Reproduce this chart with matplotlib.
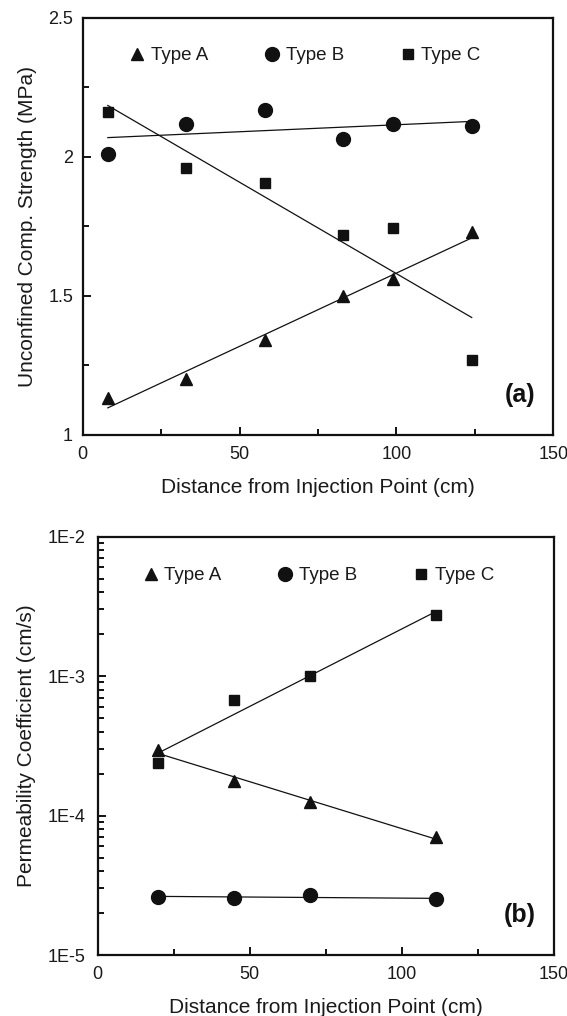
import numpy as np
import matplotlib
matplotlib.use("Agg")
import matplotlib.pyplot as plt
from matplotlib.ticker import MultipleLocator, FixedLocator, FuncFormatter, LogLocator, NullFormatter

plt.rcParams["font.family"] = ["Liberation Sans", "DejaVu Sans"]

TEXT = "#1a1a1a"
INK = "#111111"

# panel (a): unconfined compressive strength
dist_a = [8, 33, 58, 83, 99, 124]
ucs_type_a = [1.13, 1.20, 1.34, 1.50, 1.56, 1.73]
ucs_type_b = [2.01, 2.12, 2.17, 2.065, 2.12, 2.11]
ucs_type_c = [2.16, 1.96, 1.905, 1.72, 1.745, 1.27]

# panel (b): permeability coefficient
dist_b = [20, 45, 70, 111.5]
perm_type_a = [2.96e-4, 1.76e-4, 1.26e-4, 6.96e-5]
perm_type_b = [2.62e-5, 2.57e-5, 2.68e-5, 2.51e-5]
perm_type_c = [2.39e-4, 6.68e-4, 1.0e-3, 2.75e-3]

labels = ["Type A", "Type B", "Type C"]
markers = [("^", 9), ("o", 10), ("s", 7.2)]


def style_axes(ax):
    for sp in ax.spines.values():
        sp.set_linewidth(1.6)
        sp.set_color(INK)
    ax.tick_params(which="both", direction="in", top=False, right=False,
                   width=1.4, colors=INK, labelcolor=TEXT, labelsize=13)
    ax.tick_params(which="major", length=6)
    ax.tick_params(which="minor", length=4)
    ax.tick_params(axis="x", which="both", pad=8)
    ax.xaxis.set_major_locator(MultipleLocator(50))
    ax.xaxis.set_minor_locator(MultipleLocator(25))
    ax.set_xlim(0, 150)
    ax.set_xlabel("Distance from Injection Point (cm)", fontsize=15,
                  color=TEXT, labelpad=11)


def add_legend(ax, y):
    ax.legend(loc="center left", bbox_to_anchor=(0.1, y), ncol=3,
              frameon=False, fontsize=13.5, handlelength=0.8,
              handletextpad=0.33, columnspacing=3.0, borderaxespad=0,
              borderpad=0, numpoints=1, labelcolor=TEXT)


fig = plt.figure(figsize=(5.67, 10.16), dpi=100)

# ---- (a) ----
ax1 = fig.add_axes([0.1459, 0.5723, 0.8299, 0.4100])
x = np.array(dist_a, dtype=float)
for ys, (m, ms), lab in zip([ucs_type_a, ucs_type_b, ucs_type_c], markers, labels):
    ax1.plot(x, ys, linestyle="none", marker=m, markersize=ms, color=INK, label=lab)
    k, b = np.polyfit(x, ys, 1)
    xs = np.array([x.min(), x.max()])
    ax1.plot(xs, k * xs + b, color=INK, linewidth=0.9)
ax1.set_ylim(1, 2.5)
ax1.yaxis.set_major_locator(FixedLocator([1, 1.5, 2, 2.5]))
ax1.yaxis.set_minor_locator(FixedLocator([1.25, 1.75, 2.25]))
ax1.yaxis.set_major_formatter(FuncFormatter(lambda v, p: f"{v:g}"))
style_axes(ax1)
ax1.tick_params(axis="y", which="both", pad=7)
ax1.set_ylabel("Unconfined Comp. Strength (MPa)", fontsize=15, color=TEXT, labelpad=8)
add_legend(ax1, 0.909)
ax1.text(0.961, 0.095, "(a)", transform=ax1.transAxes, ha="right", va="center",
         fontsize=18, fontweight="bold", color=INK)

# ---- (b) ----
ax2 = fig.add_axes([0.1720, 0.0600, 0.8042, 0.4119])
x = np.array(dist_b, dtype=float)
for ys, (m, ms), lab in zip([perm_type_a, perm_type_b, perm_type_c], markers, labels):
    ax2.plot(x, ys, linestyle="none", marker=m, markersize=ms, color=INK, label=lab)
    k, b = np.polyfit(x, np.log10(ys), 1)
    xs = np.linspace(x.min(), x.max(), 50)
    ax2.plot(xs, 10 ** (k * xs + b), color=INK, linewidth=0.9)
ax2.set_yscale("log")
ax2.set_ylim(1e-5, 1e-2)
ax2.yaxis.set_major_locator(LogLocator(base=10, numticks=10))
ax2.yaxis.set_minor_locator(LogLocator(base=10, subs=np.arange(2, 10), numticks=10))
ax2.yaxis.set_major_formatter(FuncFormatter(lambda v, p: f"1E{int(round(np.log10(v)))}"))
ax2.yaxis.set_minor_formatter(NullFormatter())
style_axes(ax2)
ax2.tick_params(axis="y", which="both", pad=9)
ax2.set_ylabel("Permeability Coefficient (cm/s)", fontsize=15, color=TEXT, labelpad=8)
add_legend(ax2, 0.906)
ax2.text(0.961, 0.095, "(b)", transform=ax2.transAxes, ha="right", va="center",
         fontsize=18, fontweight="bold", color=INK)

fig.savefig("out.png", dpi=100)
